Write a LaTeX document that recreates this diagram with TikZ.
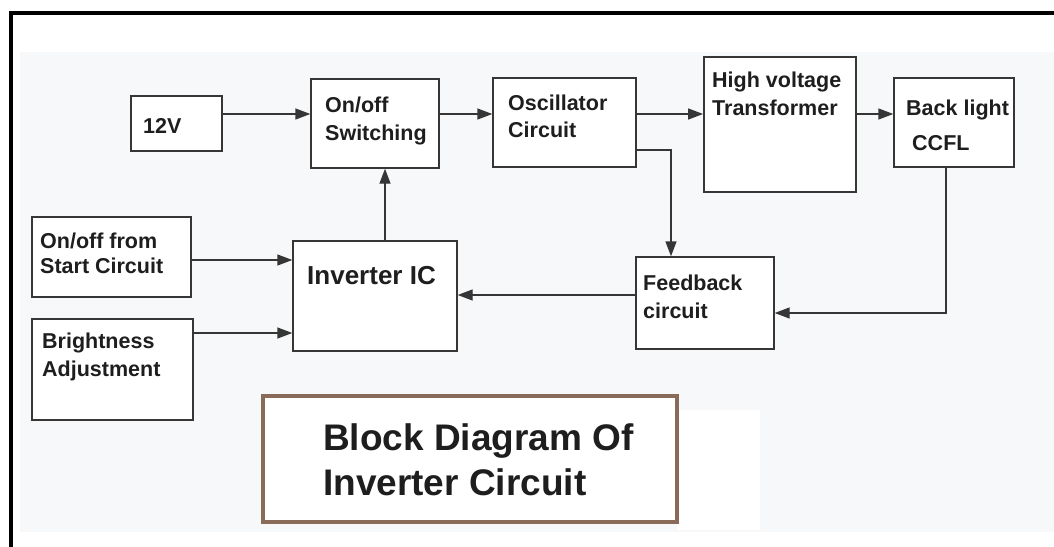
\documentclass[tikz,border=0pt]{standalone}
\usepackage{fontspec}
\setmainfont{Liberation Sans}
\usetikzlibrary{arrows.meta}
\definecolor{ln}{HTML}{363636}
\definecolor{tx}{HTML}{1E1E1E}
\definecolor{bg}{HTML}{F7F8FA}
\definecolor{brn}{HTML}{8A6A58}
\tikzset{
  box/.style={draw=ln, line width=1.4pt, fill=white, inner sep=0pt},
  lbl/.style={anchor=base west, inner sep=0pt, text=tx, font=\fontsize{21.5}{26}\selectfont\bfseries},
  biglbl/.style={lbl, font=\fontsize{26}{30}\selectfont\bfseries},
  ttl/.style={lbl, font=\fontsize{37}{44}\selectfont\bfseries},
  arr/.style={draw=ln, line width=1.4pt, -{Triangle[length=15pt,width=11pt]}},
}
\begin{document}
\begin{tikzpicture}[x=1pt,y=-1pt]
\useasboundingbox (0,0) rectangle (1054,546);
\fill[white] (0,0) rectangle (1054,546);
\fill[bg] (20,52) rectangle (1054,532);
\fill[white] (677,410) rectangle (760,530);
\draw[black, line width=4pt] (11,550) -- (11,13) -- (1058,13);

% boxes
\node[box, minimum width=91pt, minimum height=55pt] (v12) at (176.5,123.5) {};
\node[box, minimum width=128pt, minimum height=89pt] (sw) at (375,123.5) {};
\node[box, minimum width=143pt, minimum height=89pt] (osc) at (564.5,122.5) {};
\node[box, line width=1.8pt, minimum width=152pt, minimum height=135pt] (hv) at (780,124.5) {};
\node[box, minimum width=120pt, minimum height=89pt] (bl) at (954,122.5) {};
\node[box, minimum width=159pt, minimum height=80pt] (st) at (111.5,257) {};
\node[box, minimum width=164pt, minimum height=110pt] (inv) at (375,296) {};
\node[box, minimum width=161pt, minimum height=101pt] (br) at (112.5,369.5) {};
\node[box, minimum width=138pt, minimum height=92pt] (fb) at (705,303) {};
\node[draw=brn, line width=4pt, fill=white, inner sep=0pt, minimum width=414pt, minimum height=126pt] (title) at (470,459) {};

% texts
\node[lbl] (t12v) at (143,133) {12V};
\node[lbl] (tsw1) at (325,112) {On/off};
\node[lbl] (tsw2) at (325,140) {Switching};
\node[lbl] (tosc1) at (508,110) {Oscillator};
\node[lbl] (tosc2) at (508,137) {Circuit};
\node[lbl] (thv1) at (712,87) {High voltage};
\node[lbl] (thv2) at (712,115) {Transformer};
\node[lbl] (tbl1) at (906,115) {Back light};
\node[lbl] (tbl2) at (912,150) {CCFL};
\node[lbl] (tst1) at (40,248) {On/off from};
\node[lbl] (tst2) at (40,273) {Start Circuit};
\node[biglbl] (tinv) at (307,284) {Inverter IC};
\node[lbl] (tbr1) at (42,348) {Brightness};
\node[lbl] (tbr2) at (42,376) {Adjustment};
\node[lbl] (tfb1) at (643,290) {Feedback};
\node[lbl] (tfb2) at (643,318) {circuit};
\node[ttl] (tt1) at (323,450) {Block Diagram Of};
\node[ttl] (tt2) at (323,495) {Inverter Circuit};

% helper coordinates
\coordinate (r1) at (0,114);
\coordinate (oc) at (671,150);
\coordinate (bc) at (946,313);
\coordinate (fc) at (0,295);
\coordinate (ic) at (385,0);
\coordinate (sc) at (0,260);
\coordinate (brc) at (0,333);

% connectors
\draw[arr] (v12.east |- r1) -- (sw.west |- r1);
\draw[arr] (sw.east |- r1) -- (osc.west |- r1);
\draw[arr] (osc.east |- r1) -- (hv.west |- r1);
\draw[arr] (hv.east |- r1) -- (bl.west |- r1);
\draw[arr] (osc.east |- oc) -| (oc |- fb.north);
\draw[arr] (bl.south -| bc) |- (fb.east |- bc);
\draw[arr] (fb.west |- fc) -- (inv.east |- fc);
\draw[arr] (inv.north -| ic) -- (sw.south -| ic);
\draw[arr] (st.east |- sc) -- (inv.west |- sc);
\draw[arr] (br.east |- brc) -- (inv.west |- brc);
\end{tikzpicture}
\end{document}
